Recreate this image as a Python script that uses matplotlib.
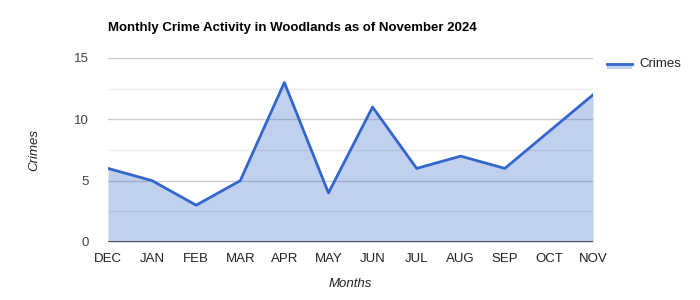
import matplotlib
matplotlib.use("Agg")
import matplotlib.pyplot as plt
from matplotlib.lines import Line2D

plt.rcParams['font.family'] = ['Liberation Sans', 'DejaVu Sans']

months = ["DEC", "JAN", "FEB", "MAR", "APR", "MAY", "JUN", "JUL", "AUG", "SEP", "OCT", "NOV"]
crimes = [6, 5, 3, 5, 13, 4, 11, 6, 7, 6, 9, 12]
yticks = [0, 5, 10, 15]
minor_yticks = [2.5, 7.5, 12.5]

fig = plt.figure(figsize=(7, 3), dpi=100)
ax = fig.add_axes([108/700, 1-242/300, (593-108)/700, (242-58)/300])

x = list(range(len(months)))
color = "#3366cc"
ax.fill_between(x, crimes, 0, color=color, alpha=0.3, linewidth=0, zorder=2)
ax.plot(x, crimes, color=color, linewidth=2, zorder=3)

ax.set_xlim(0, len(months) - 1)
ax.set_ylim(0, 15)
ax.set_yticks(yticks)
ax.set_yticks(minor_yticks, minor=True)
ax.set_xticks(x)
ax.set_xticklabels(months)
for v in yticks[1:]:
    ax.axhline(v, color="#cccccc", linewidth=1, zorder=1)
for v in minor_yticks:
    ax.axhline(v, color="#ebebeb", linewidth=1, zorder=1)
ax.axhline(0, color="#333333", linewidth=1.2, zorder=4)

for s in ax.spines.values():
    s.set_visible(False)
ax.tick_params(axis='both', which='both', length=0)
ax.tick_params(axis='y', labelsize=9.5, labelcolor="#444444", pad=14)
ax.tick_params(axis='x', labelsize=9.5, labelcolor="#222222", pad=8)

ax.set_xlabel("Months", fontstyle="italic", fontsize=9.5, color="#222222", labelpad=9)
ax.set_ylabel("Crimes", fontstyle="italic", fontsize=9.5, color="#222222", labelpad=24)

fig.text(108/700, 1-28/300, "Monthly Crime Activity in Woodlands as of November 2024",
         fontsize=9.5, fontweight="bold", color="#000000", va="center", ha="left")

# legend
lx0, lx1, ly = 607/700, 632/700, 1-64/300
fig.patches.append(plt.Rectangle((lx0, ly - 5/300), lx1 - lx0, 5/300, transform=fig.transFigure,
                                 facecolor=color, alpha=0.3, edgecolor="none"))
fig.lines.append(Line2D([lx0, lx1], [ly, ly], transform=fig.transFigure, color=color, linewidth=2))
fig.text(639/700, ly, "Crimes", fontsize=9.5, color="#222222", va="center", ha="left")

fig.savefig("out.png", dpi=100)
